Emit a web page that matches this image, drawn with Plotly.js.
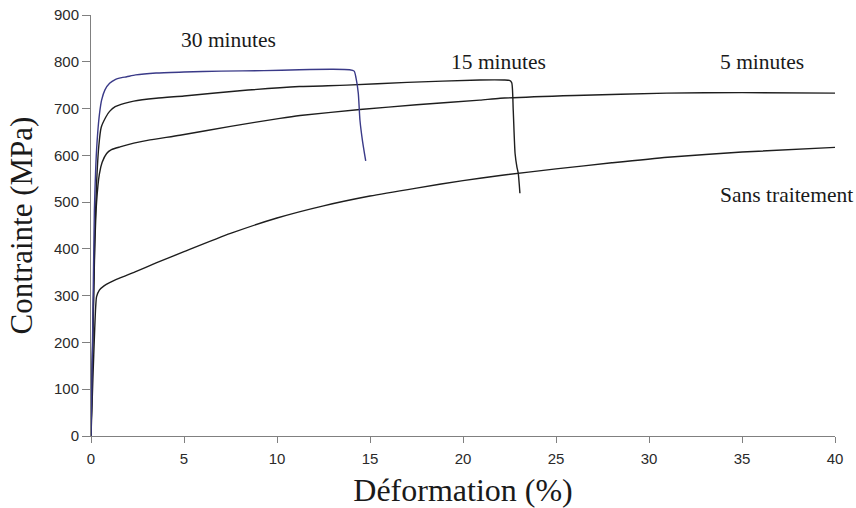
<!DOCTYPE html>
<html>
<head>
<meta charset="utf-8">
<script src="https://cdn.plot.ly/plotly-3.0.1.min.js"></script>
<style>html,body{margin:0;padding:0;background:#fff}#chart{width:856px;height:508px}</style>
</head>
<body>
<div id="chart"></div>
<script>
// Déformation (%) / Contrainte (MPa)
const strain30 = [0, 0.1, 0.18, 0.26, 0.36, 0.46, 0.57, 0.75, 1.0, 1.3, 1.65, 1.92, 2.4, 3.5, 5.0, 7.0, 9.3, 11.2, 13.0, 13.9, 14.15, 14.25, 14.37, 14.46, 14.6, 14.77];
const stress30 = [0, 250, 480, 580, 648, 690, 718, 740, 754, 762, 766, 768, 772, 776, 778, 780, 781, 783, 784, 783, 780, 765, 733, 675, 630, 588];

const strain15 = [0, 0.1, 0.2, 0.3, 0.42, 0.55, 0.8, 1.0, 1.3, 1.8, 2.3, 3.5, 5.0, 8.0, 11.2, 13.75, 17.0, 20.9, 22.2, 22.5, 22.62, 22.7, 22.8, 22.9, 22.97, 23.06];
const stress15 = [0, 220, 420, 540, 620, 660, 682, 694, 704, 711, 716, 722, 727, 738, 747, 750, 756, 761, 761, 760, 755, 697, 604, 575, 562, 519];

const strain5 = [0, 0.1, 0.2, 0.3, 0.45, 0.6, 0.84, 1.1, 1.56, 2.3, 3.17, 4.78, 7.5, 10.16, 11.24, 14.46, 17.5, 20.9, 22.0, 26.0, 30.95, 35.0, 40.0];
const stress5 = [0, 210, 400, 500, 560, 585, 604, 612, 618, 626, 633, 643, 662, 679, 685, 698, 708, 718, 722, 728, 733, 734, 733];

const strain0 = [0, 0.1, 0.2, 0.25, 0.3, 0.45, 0.7, 1.0, 1.5, 2.37, 3.5, 5.0, 7.5, 10.0, 12.5, 15.0, 17.5, 20.0, 22.0, 25.0, 28.0, 31.0, 35.0, 40.0];
const stress0 = [0, 120, 230, 275, 298, 312, 321, 328, 337, 351, 370, 394, 433, 466, 492, 513, 530, 546, 557, 571, 584, 596, 607, 617];

const labelTexts = ['30 minutes', '15 minutes', '5 minutes', 'Sans traitement'];
const labelX = [7.37, 21.9, 36.1, 37.4];
const labelY = [846, 800, 800, 515];

const xTicks = [0, 5, 10, 15, 20, 25, 30, 35, 40];
const yTicks = [0, 100, 200, 300, 400, 500, 600, 700, 800, 900];

const black = '#1e1e1e';
const series = [
  {x: strain0, y: stress0, name: 'Sans traitement', color: black},
  {x: strain5, y: stress5, name: '5 minutes', color: black},
  {x: strain15, y: stress15, name: '15 minutes', color: black},
  {x: strain30, y: stress30, name: '30 minutes', color: '#3a3a88'}
];
const traces = series.map(s => ({
  type: 'scatter', mode: 'lines', x: s.x, y: s.y, name: s.name, hoverinfo: 'skip',
  line: {color: s.color, width: 1.4, shape: 'spline', smoothing: 0.6}
}));

const serif = '"Liberation Serif", "Times New Roman", serif';
const sans = '"Liberation Sans", Arial, sans-serif';

const layout = {
  width: 856, height: 508,
  margin: {l: 91, r: 21, t: 15, b: 72},
  paper_bgcolor: '#fff', plot_bgcolor: '#fff',
  showlegend: false,
  xaxis: {
    range: [0, 40], tickvals: xTicks, ticktext: xTicks.map(String),
    ticks: 'outside', ticklen: 6, tickcolor: '#808080', tickwidth: 1,
    showline: true, linecolor: '#808080', linewidth: 1,
    showgrid: false, zeroline: false, automargin: false,
    ticklabelstandoff: 3,
    tickfont: {family: sans, size: 15, color: '#2a2a2a'},
    title: {text: 'Déformation (%)', font: {family: serif, size: 32, color: '#1a1a1a'}, standoff: 12}
  },
  yaxis: {
    range: [0, 900], tickvals: yTicks, ticktext: yTicks.map(String),
    ticks: 'outside', ticklen: 8, tickcolor: '#808080', tickwidth: 1,
    showline: true, linecolor: '#808080', linewidth: 1,
    showgrid: false, zeroline: false, automargin: false,
    tickfont: {family: sans, size: 15, color: '#2a2a2a'},
    title: {text: 'Contrainte (MPa)', font: {family: serif, size: 31, color: '#1a1a1a'}, standoff: 12}
  },
  annotations: labelTexts.map((t, i) => ({
    x: labelX[i], y: labelY[i], xref: 'x', yref: 'y', text: t, showarrow: false,
    xanchor: 'center', yanchor: 'middle',
    font: {family: serif, size: 21.5, color: '#1a1a1a'}
  }))
};

Plotly.newPlot('chart', traces, layout, {displayModeBar: false, staticPlot: true});
</script>
</body>
</html>
